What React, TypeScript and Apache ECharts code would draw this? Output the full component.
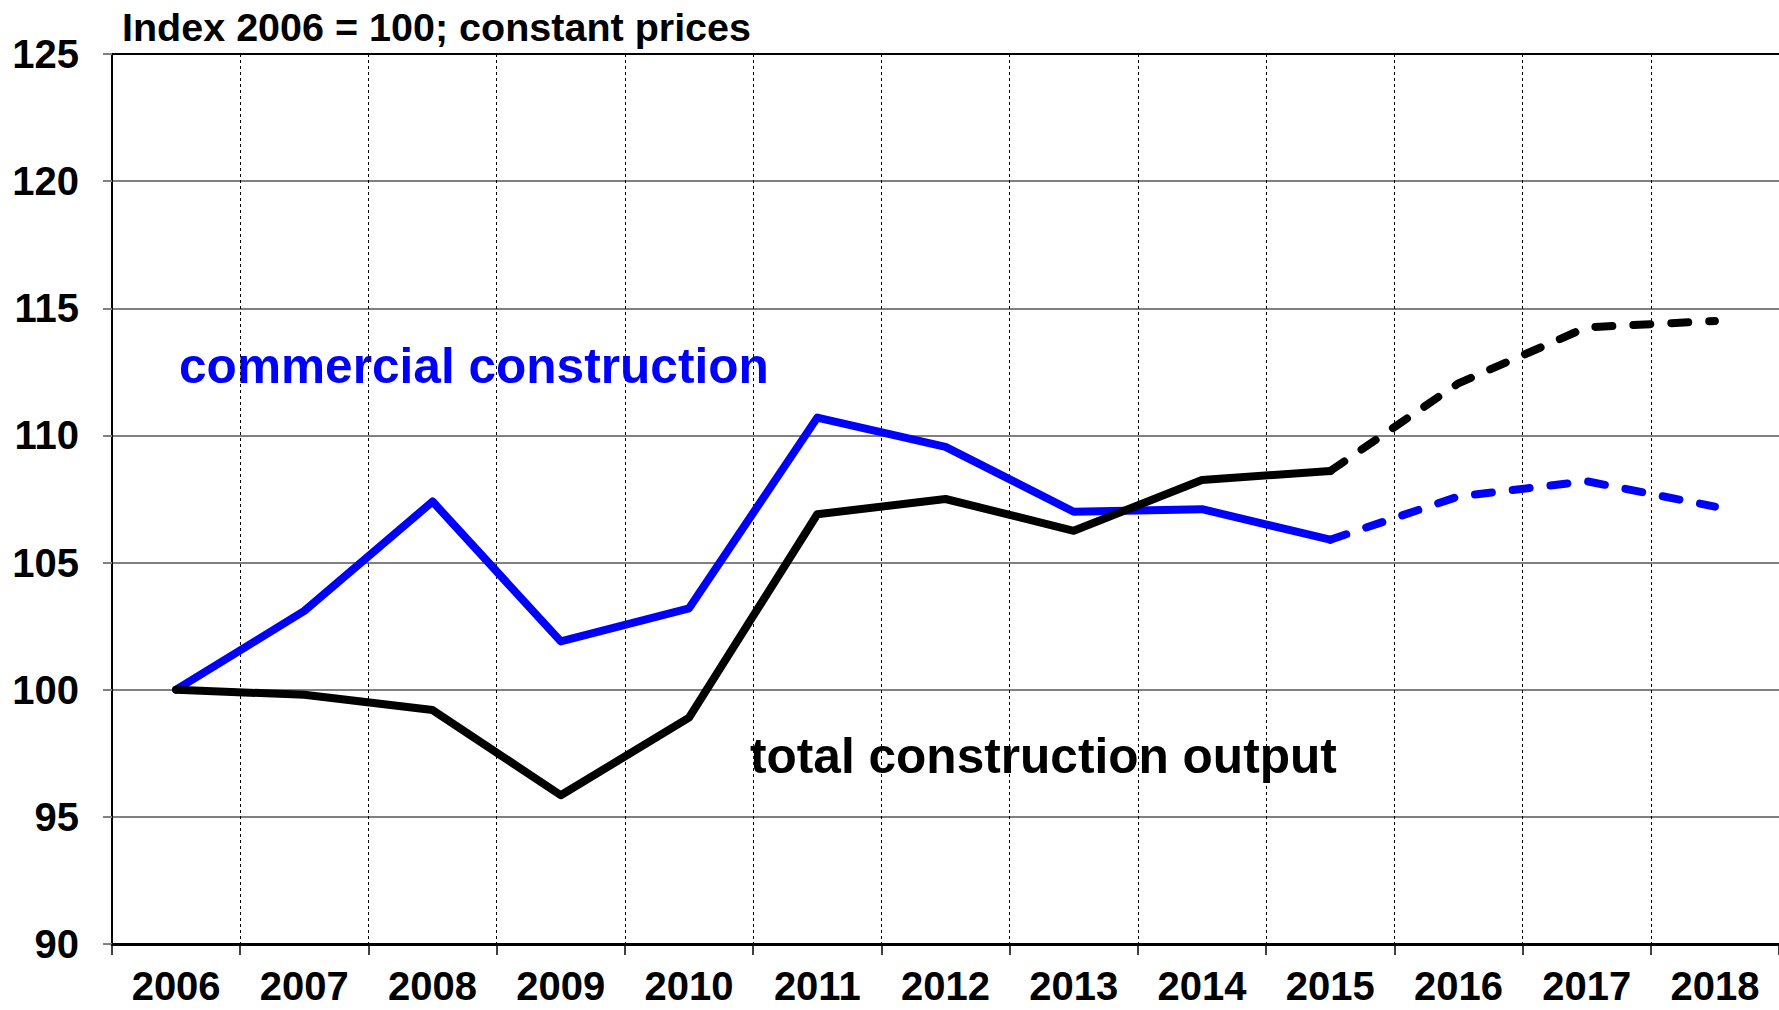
import React, { useEffect, useRef } from "react";
import * as echarts from "echarts";

const years = ["2006", "2007", "2008", "2009", "2010", "2011", "2012", "2013", "2014", "2015", "2016", "2017", "2018"];
const commercial = [100, 103.1, 107.4, 101.9, 103.2, 110.7, 109.55, 107.0, 107.1, 105.9, 107.6, 108.2, 107.2];
const total = [100, 99.8, 99.2, 95.85, 98.9, 106.9, 107.5, 106.25, 108.25, 108.6, 112.05, 114.25, 114.5];
const forecastFrom = "2015";
const titleText = "Index 2006 = 100; constant prices";
const commercialLabel = "commercial construction";
const totalLabel = "total construction output";

const FONT = '"Liberation Sans", Arial, sans-serif';

function split(values: number[]) {
  const idx = years.indexOf(forecastFrom);
  const actual = values.map((v, i) => (i <= idx ? v : null));
  const forecast = values.map((v, i) => (i >= idx ? v : null));
  return { actual, forecast };
}

export default function App() {
  const ref = useRef<HTMLDivElement>(null);
  useEffect(() => {
    document.body.style.margin = "0";
    if (!ref.current) return;
    const chart = echarts.init(ref.current, undefined, { renderer: "svg" });
    const c = split(commercial);
    const t = split(total);
    const solid = (color: string) => ({ color, width: 8, cap: "round", join: "round" });
    const dashed = (color: string) => ({ color, width: 8, type: [17, 21], cap: "round", join: "round" });
    chart.setOption({
      animation: false,
      backgroundColor: "#fff",
      title: {
        text: titleText,
        left: 117,
        top: 2,
        textStyle: { fontFamily: FONT, fontWeight: "bold", fontSize: 39.5, color: "#000" },
      },
      grid: { left: 112, width: 1680, top: 54, bottom: 66, containLabel: false },
      xAxis: [
        {
          type: "category",
          data: years,
          boundaryGap: true,
          axisLine: { show: true, lineStyle: { color: "#000", width: 3 } },
          axisTick: { show: true, length: 11, lineStyle: { color: "#000", width: 1.5 } },
          axisLabel: { fontFamily: FONT, fontWeight: "bold", fontSize: 40, lineHeight: 34, color: "#000", margin: 25 },
          splitLine: { show: true, lineStyle: { color: "#000", width: 1, type: [3, 3] } },
        },
        {
          type: "category",
          data: years,
          position: "top",
          axisLine: { show: true, lineStyle: { color: "#000", width: 2 } },
          axisTick: { show: false },
          axisLabel: { show: false },
          splitLine: { show: false },
        },
      ],
      yAxis: {
        type: "value",
        min: 90,
        max: 125,
        interval: 5,
        axisLine: { show: true, lineStyle: { color: "#000", width: 2 } },
        axisTick: { show: true, length: 9, lineStyle: { color: "#808080", width: 2 } },
        axisLabel: { fontFamily: FONT, fontWeight: "bold", fontSize: 40, color: "#000", margin: 33 },
        splitLine: { show: true, lineStyle: { color: "#808080", width: 2 } },
      },
      series: [
        { name: "total", type: "line", data: t.actual, showSymbol: false, symbol: "none", lineStyle: solid("#000"), z: 3 },
        { name: "total forecast", type: "line", data: t.forecast, showSymbol: false, symbol: "none", lineStyle: dashed("#000"), z: 3 },
        { name: "commercial", type: "line", data: c.actual, showSymbol: false, symbol: "none", lineStyle: solid("#0000ff"), z: 2 },
        { name: "commercial forecast", type: "line", data: c.forecast, showSymbol: false, symbol: "none", lineStyle: dashed("#0000ff"), z: 2 },
      ],
      graphic: [
        {
          type: "text",
          left: 179,
          top: 341,
          style: { text: commercialLabel, fill: "#0000ff", font: `bold 49.6px ${FONT}` },
        },
        {
          type: "text",
          left: 750,
          top: 731,
          style: { text: totalLabel, fill: "#000", font: `bold 49.6px ${FONT}` },
        },
      ],
    });
    return () => chart.dispose();
  }, []);
  return <div ref={ref} style={{ width: 1779, height: 1010 }} />;
}
